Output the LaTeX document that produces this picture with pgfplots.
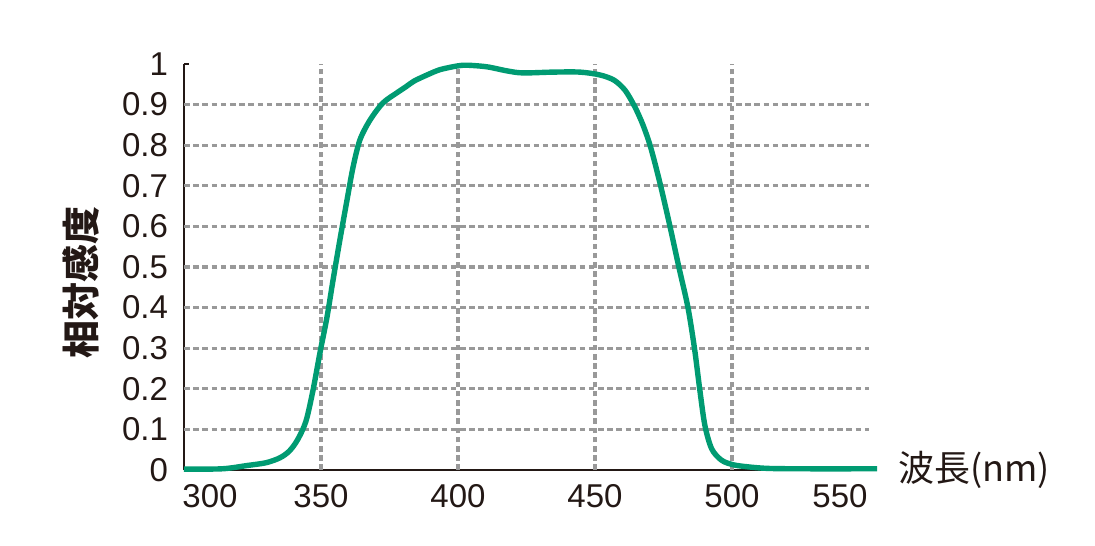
\documentclass[border=0pt]{standalone}
\usepackage{pgfplots}
\pgfplotsset{compat=1.18}
\usepackage{fontspec}
\setmainfont{Liberation Sans}
\newfontfamily\jp{Noto Sans CJK JP}
\definecolor{inkblk}{HTML}{231815}
\definecolor{curvegreen}{RGB}{0,155,114}
\definecolor{gridgray}{HTML}{999999}

\begin{document}
\begin{tikzpicture}
\useasboundingbox (-92pt,-37.5pt) rectangle (455.5pt,235pt);
\begin{axis}[
    at={(0,0)}, anchor=south west,
    scale only axis,
    width=342.5pt, height=203pt,
    xmin=300, xmax=550,
    ymin=0, ymax=1,
    clip=false,
    axis x line*=bottom,
    axis y line*=left,
    axis line style={inkblk, line width=1.3pt, -},
    xtick={309.5,350,400,450,500,539.4},
    xticklabels={300,350,400,450,500,550},
    x tick style={draw=none},
    ytick={0,0.1,...,1.01},
    yticklabels={0,0.1,0.2,0.3,0.4,0.5,0.6,0.7,0.8,0.9,1},
    y tick style={inkblk, line width=1.3pt},
    tick align=inside,
    major tick length=2.5pt,
    extra x ticks={350,400,450,500},
    extra x tick labels={},
    extra x tick style={grid=major, major tick length=0pt},
    extra y ticks={0.1,0.2,...,0.91},
    extra y tick labels={},
    extra y tick style={grid=major, major tick length=0pt},
    grid style={gridgray, line width=1.6pt, dash pattern=on 2.8pt off 1.8pt},
    /pgf/number format/assume math mode=true,
    tick label style={font=\fontsize{16.5}{18}\selectfont, text=inkblk},
    xticklabel style={yshift=-3.5pt},
    yticklabel style={xshift=-4.5pt},
    xlabel={\jp 波長(nm)},
    xlabel style={at={(rel axis cs:1,0)}, anchor=west, xshift=11pt, yshift=0pt,
        font=\fontsize{18}{20}\selectfont, text=inkblk},
    ylabel={\jp\bfseries 相対感度},
    ylabel style={at={(rel axis cs:-0.15,0.463)}, anchor=center,
        font=\fontsize{19}{21}\selectfont, text=inkblk},
]
\addplot[curvegreen, line width=2.7pt, smooth] coordinates {
(300,0.002) (314,0.003) (323,0.011) (330,0.018) (335,0.030)
(338.5,0.047) (341.5,0.075) (344.5,0.120) (347.1,0.197) (349.6,0.288)
(352.2,0.377) (354.4,0.468) (356.9,0.567) (359.5,0.665) (361.7,0.746)
(364.2,0.813) (367.9,0.862) (372.6,0.904) (377.7,0.929) (381,0.944)
(384,0.958) (388.7,0.973) (393.4,0.986) (399.6,0.995) (403.3,0.997)
(410.6,0.993) (417.9,0.983) (423.7,0.978) (434.7,0.980) (444.5,0.980)
(451.8,0.973) (457,0.960) (461,0.935) (464.5,0.895) (467.5,0.850)
(470.3,0.795) (473.7,0.707) (477.2,0.605) (480.6,0.500) (483.9,0.401)
(486.3,0.300) (488.2,0.200) (490.1,0.110) (492.6,0.052) (496.2,0.024)
(500.4,0.013) (505.5,0.008) (512.8,0.004) (525,0.003) (553,0.003)
};
\end{axis}
\end{tikzpicture}
\end{document}
